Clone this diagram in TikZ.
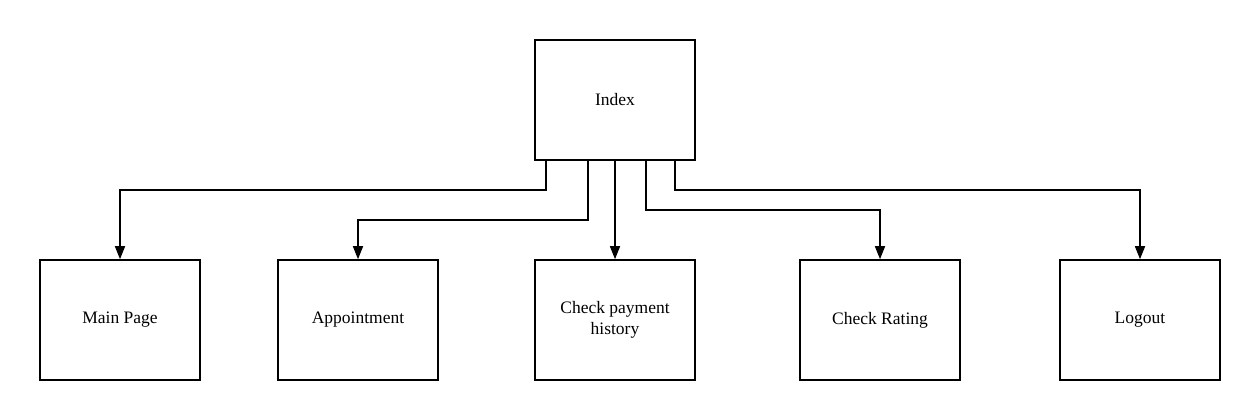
\documentclass[tikz,border=0pt]{standalone}
\usepackage{fontspec}
\setmainfont{Liberation Serif}
\usetikzlibrary{arrows.meta}
\begin{document}
\begin{tikzpicture}[x=1pt,y=-1pt,
  pbox/.style={draw,line width=1.6pt,minimum width=160pt,minimum height=120pt,inner sep=0pt,align=center,font=\fontsize{17.5pt}{21.5pt}\selectfont},
  conn/.style={line width=1.6pt,-{Triangle[length=13pt,width=10pt]}}]
\useasboundingbox (0,0) rectangle (1260,420);
\fill[white] (0,0) rectangle (1260,420);
\node[pbox] (idx) at (615,100) {Index};
\node[pbox] (main) at (120,320) {Main Page};
\node[pbox] (app) at (358,320) {Appointment};
\node[pbox] (pay) at (615,320) {Check payment\\history};
\node[pbox] (rate) at (880,320) {Check Rating};
\node[pbox] (out) at (1140,320) {Logout};
\draw[conn] (idx.south -| 546,0) |- (120,190) -- (main.north);
\draw[conn] (idx.south -| 588,0) |- (358,220) -- (app.north);
\draw[conn] (idx.south) -- (pay.north);
\draw[conn] (idx.south -| 646,0) |- (880,210) -- (rate.north);
\draw[conn] (idx.south -| 675,0) |- (1140,190) -- (out.north);
\end{tikzpicture}
\end{document}
